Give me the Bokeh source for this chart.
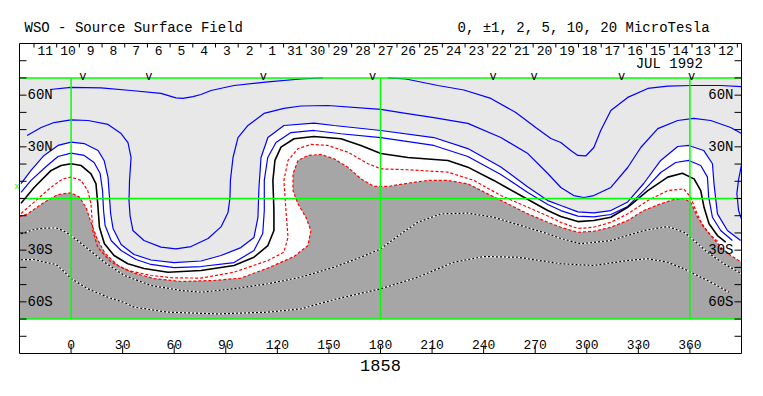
from bokeh.plotting import figure
from bokeh.embed import file_html
from bokeh.resources import INLINE
from bokeh.core.properties import value

# ---------------- frame / map extents ----------------
LON_MIN, LON_MAX = -30, 390
LAT_MIN, LAT_MAX = -90, 90
MAP_S, MAP_N = -70, 70
grid_lons = [0, 180, 360]
grid_lats = [70, 0, -70]

# ---------------- axis ticks / labels ----------------
lon_ticks = [0, 30, 60, 90, 120, 150, 180, 210, 240, 270, 300, 330, 360]
lon_tick_labels = [str(v) for v in lon_ticks]
lat_ticks = [-80, -70, -60, -50, -40, -30, -20, -10, 0, 10, 20, 30, 40, 50, 60, 70, 80]
lat_label_vals = [60, 30, -30, -60]
lat_label_text = ["60N", "30N", "30S", "60S"]

# Carrington rotation 1858: day labels (days counted from 1 July 1992)
rotation = "1858"
rot_start_day = 14.09          # July day at longitude 360
deg_per_day = 360 / 27.2753
day_index = [42, 41, 40, 39, 38, 37, 36, 35, 34, 33, 32, 31, 30, 29, 28, 27, 26, 25,
             24, 23, 22, 21, 20, 19, 18, 17, 16, 15, 14, 13, 12]
day_labels = ["11", "10", "9", "8", "7", "6", "5", "4", "3", "2", "1", "31", "30", "29",
              "28", "27", "26", "25", "24", "23", "22", "21", "20", "19", "18", "17",
              "16", "15", "14", "13", "12"]
day_bounds = list(range(12, 44))

# observation markers ("V")
obs_lons = [6.8, 45.2, 111.8, 175.4, 245.5, 269.3, 320.3, 361.0]

b0_lat = 6.6

# ---------------- contours (lon, lat) ----------------
# +10 uT (two pieces)
p10a_lon = [-12.2, 0, 17.4, 34.9, 52.3, 61.0, 65.1, 70.9, 75.6, 81.4, 94.8, 114.5, 133.7, 146.5]
p10a_lat = [63.3, 64.5, 64.2, 62.7, 61.0, 58.4, 58.1, 59.2, 60.4, 62.7, 65.6, 67.7, 69.4, 70.0]
p10b_lon = [184.3, 194.8, 213.4, 228.5, 244.2, 258.7, 270.3, 279.1, 284.9, 290.7, 294.8, 299.4,
            304.1, 308.1, 314.0, 323.8, 335.5, 347.1, 360.5, 378.0, 390.0]
p10b_lat = [70.0, 69.4, 65.6, 63.0, 58.1, 49.9, 41.2, 34.8, 32.5, 27.9, 25.0, 24.7,
            29.6, 39.5, 51.1, 58.7, 63.9, 65.3, 65.6, 65.6, 65.0]

# +5 uT
p5_lon = [-25.6, -17.4, -9.9, 0, 9.9, 21.5, 29.1, 33.1, 34.9, 34.0, 33.7, 34.3, 36.0, 42.4, 52.3,
          61.0, 69.8, 79.7, 87.2, 91.3, 92.4, 92.7, 94.2, 97.1, 102.9, 112.2, 123.8, 133.7, 149.4,
          180.2, 191.9, 211.0, 230.8, 250.0, 265.7, 277.3, 284.9, 292.4, 298.3, 304.1, 314.0,
          323.8, 331.4, 341.3, 352.9, 362.2, 372.1, 383.7, 390.0]
p5_lat = [36.6, 41.2, 44.1, 45.6, 45.3, 43.0, 37.7, 32.5, 23.8, 10.5, -1.2, -9.9, -18.6, -24.4, -28.2,
          -29.3, -27.9, -23.2, -16.5, -8.1, 0, 10.5, 23.8, 35.4, 42.4, 49.4, 52.3, 53.7, 54.0,
          51.7, 49.9, 47.0, 43.6, 35.4, 26.1, 14.5, 6.4, 1.7, 0.6, 1.7, 6.4,
          18.0, 29.6, 40.6, 45.3, 46.5, 45.3, 41.2, 37.7]
p5_east_lon = [390.0, 388.3, 387.3, 388.3, 390.0]
p5_east_lat = [19.5, 11.0, 3.0, -7.0, -12.0]

# +2 uT
p2_lon = [-29.1, -23.3, -15.7, -7.6, 0, 7.6, 15.7, 19.2, 21.5, 22.4, 23.0, 24.4, 29.1, 36.6, 46.5,
          59.9, 75.6, 87.2, 98.8, 106.4, 108.7, 109.3, 110.5, 114.5, 123.8, 141.3, 152.9, 180.2,
          211.0, 230.8, 250.0, 265.7, 277.3, 284.9, 294.8, 304.1, 314.0, 323.8, 333.1, 343.0,
          352.9, 359.3, 368.0, 373.1, 374.0, 376.0, 381.8, 389.5]
p2_lat = [8.7, 16.3, 25.0, 30.8, 32.7, 31.9, 27.9, 22.1, 12.2, 0, -8.7, -17.4, -26.7, -32.5, -35.7,
          -37.2, -36.3, -33.1, -28.5, -22.6, -11.0, 6.4, 23.8, 35.4, 42.4, 43.8, 42.4, 39.5,
          35.4, 29.0, 18.3, 6.7, -1.2, -4.1, -7.8, -8.4, -7.0, -2.0, 8.7, 22.1,
          30.2, 30.8, 27.9, 20.2, 8.5, -8.9, -18.6, -24.4]

# +1 uT
p1_lon = [-29.1, -23.3, -14.5, -7.6, 0, 7.6, 13.4, 16.9, 18.3, 18.9, 19.8, 23.3, 29.1, 37.8, 46.5,
          59.9, 75.6, 94.8, 106.4, 111.5, 112.4, 112.4, 114.4, 119.2, 127.9, 141.3, 157.0, 180.2,
          211.0, 230.8, 250.0, 265.7, 277.3, 284.9, 294.8, 304.1, 314.0, 323.8, 333.1, 343.0,
          351.7, 359.3, 366.3, 370.2, 370.9, 373.1, 377.9, 384.7]
p1_lat = [3.5, 10.5, 18.6, 24.4, 26.3, 25.0, 20.9, 14.5, 4.6, -7.0, -15.7, -24.4, -30.2, -35.4, -38.3,
          -40.1, -39.5, -37.2, -30.2, -20.3, -7.0, 10.5, 23.8, 32.5, 38.3, 39.5, 37.6, 35.4,
          30.8, 24.4, 13.9, 3.5, -3.5, -7.0, -10.2, -10.7, -9.3, -4.6, 4.6, 15.1,
          20.9, 22.1, 19.2, 12.4, 0.8, -10.9, -18.6, -24.4]

# 0 uT (neutral line)
n0_lon = [-29.1, -21.5, -11.6, -5.8, 0, 5.8, 11.6, 14.5, 15.5, 16.5, 19.4, 25.0, 33.0, 42.4, 56.4,
          75.6, 94.8, 106.4, 114.5, 118.0, 118.0, 117.4, 118.6, 122.1, 129.7, 141.3, 157.0, 168.6,
          180.2, 195.9, 219.2, 230.8, 245.9, 261.6, 277.3, 284.9, 294.8, 304.1, 314.0, 323.8,
          335.5, 347.1, 355.6, 362.4, 366.3, 368.2, 371.1, 376.0, 380.8]
n0_lat = [-2.7, 6.4, 16.3, 19.2, 20.2, 19.2, 14.3, 8.5, -2.9, -16.7, -26.3, -33.1, -37.9, -40.6, -42.8,
          -41.8, -38.9, -34.1, -27.3, -18.6, -7.0, 10.5, 22.1, 29.8, 34.7, 36.0, 34.7, 30.8,
          26.1, 23.8, 22.1, 18.2, 10.5, 1.7, -7.0, -10.5, -13.4, -12.8, -10.9, -5.1,
          4.6, 12.4, 14.7, 11.4, 4.6, -5.1, -14.7, -21.5, -25.4]

# -1 uT
m1_lon = [-29.1, -21.5, -11.6, -4.8, 0, 5.8, 9.7, 11.6, 12.6, 15.5, 23.3, 33.0, 46.5, 59.9, 75.6,
          94.8, 114.5, 123.8, 126.2, 125.0, 123.8, 126.2, 132.0, 139.5, 149.4, 161.0, 172.7, 180.2,
          195.9, 219.2, 234.3, 250.0, 265.7, 279.1, 284.9, 294.8, 304.1, 314.0, 323.8, 335.5,
          347.1, 356.4, 360.5, 363.4, 367.3, 372.1, 376.7]
m1_lat = [-8.7, -2.1, 6.6, 11.4, 12.4, 10.5, 4.6, -3.1, -18.6, -28.3, -37.0, -41.8, -44.7, -46.1, -46.2,
          -42.8, -36.0, -31.2, -22.5, -7.0, 10.5, 22.1, 28.9, 31.4, 30.8, 26.9, 20.2, 17.2,
          16.7, 15.3, 10.5, 1.7, -5.1, -10.9, -13.9, -17.4, -16.7, -13.8, -8.9, -1.2,
          4.6, 5.6, 0.8, -7.0, -15.7, -21.5, -25.4]

# -2 uT (edge of the dark negative region)
m2_lon = [-30.0, -25.2, -15.5, -7.7, 0, 4.8, 8.7, 11.6, 15.1, 19.8, 27.3, 36.6, 48.3, 64.0, 83.1,
          98.8, 114.5, 129.7, 137.8, 139.5, 136.6, 132.0, 129.1, 129.1, 132.0, 137.8, 145.3, 152.9,
          161.0, 168.6, 176.2, 184.3, 195.9, 207.6, 219.2, 230.8, 242.4, 254.1, 265.7, 277.3,
          284.9, 294.8, 304.1, 314.0, 323.8, 333.1, 343.0, 350.6, 356.4, 360.5, 364.5, 370.3,
          377.9, 383.7, 390.0]
m2_lat = [-10.5, -8.9, -2.1, 2.3, 3.3, 0.8, -5.2, -13.9, -23.2, -31.9, -38.9, -43.3, -46.5, -48.2, -47.6,
          -46.2, -40.4, -33.7, -27.3, -18.6, -10.9, -3.1, 4.6, 14.3, 22.1, 25.0, 25.6, 23.1,
          18.2, 11.4, 7.0, 7.0, 8.9, 10.5, 10.5, 8.5, 2.7, -3.1, -8.9, -13.8,
          -16.7, -19.6, -19.0, -16.7, -12.8, -7.0, -3.1, -0.6, 0, -2.3, -11.0, -19.2,
          -28.3, -33.1, -37.0]

# -5 uT
m5_lon = [-29.1, -21.5, -15.7, -8.7, -4.7, 0, 9.7, 19.4, 31.0, 46.5, 64.0, 75.6, 94.8, 114.5, 133.7,
          152.9, 168.6, 180.2, 191.9, 201.7, 215.1, 230.8, 245.9, 261.6, 277.3, 284.9, 296.5,
          314.0, 333.1, 347.1, 356.6, 362.4, 370.2, 379.8, 390.0]
m5_lat = [-20.5, -18.0, -17.2, -17.1, -18.6, -21.5, -29.2, -37.0, -44.7, -50.5, -53.4, -54.4, -52.4,
          -49.5, -45.7, -39.9, -34.1, -29.2, -20.5, -13.8, -8.9, -8.5, -10.9, -15.7, -20.5, -23.2,
          -26.3, -24.4, -18.6, -16.3, -19.6, -24.4, -31.2, -37.9, -43.7]

# -10 uT
m10_lon = [-29.1, -21.5, -15.5, -8.7, -4.7, 0, 9.7, 21.3, 31.0, 36.8, 56.2, 85.3, 114.4, 133.7, 152.9,
           180.2, 201.7, 222.7, 240.1, 259.9, 284.9, 304.1, 323.8, 335.5, 347.1, 356.4, 364.3,
           374.0, 382.7]
m10_lat = [-35.6, -35.4, -37.0, -38.3, -41.8, -46.5, -52.4, -57.3, -60.4, -63.1, -66.0, -67.0, -66.0,
           -64.1, -58.7, -52.4, -45.7, -37.0, -33.7, -34.1, -37.9, -38.9, -36.0, -35.0, -37.0,
           -40.8, -44.7, -49.5, -54.4]

# ---------------- figure ----------------
FONT = "Liberation Mono"
LIGHT = "#e8e8e8"
DARK = "#a6a6a6"
GREEN = "#00ff00"

BOX_W, BOX_H = 722, 310                     # pixel size of the map box
PAD_L, PAD_R, PAD_T, PAD_B = 19, 14, 43, 30  # room around the box for texts
px_x = BOX_W / (LON_MAX - LON_MIN)
px_y = BOX_H / (LAT_MAX - LAT_MIN)

p = figure(frame_width=BOX_W + PAD_L + PAD_R, frame_height=BOX_H + PAD_T + PAD_B,
           x_range=(LON_MIN - PAD_L / px_x, LON_MAX + PAD_R / px_x),
           y_range=(LAT_MIN - PAD_B / px_y, LAT_MAX + PAD_T / px_y),
           output_backend="svg", toolbar_location=None,
           x_axis_location=None, y_axis_location=None, min_border=0)
p.grid.grid_line_color = None
p.outline_line_color = None
p.background_fill_color = "white"
p.border_fill_color = "white"

# fills
p.quad(left=[LON_MIN], right=[LON_MAX], bottom=[MAP_S], top=[MAP_N],
       fill_color=LIGHT, line_color=None)
white_x = [LON_MIN] + p2_lon + [LON_MAX, LON_MAX, LON_MIN]
white_y = [p2_lat[0]] + p2_lat + [p2_lat[-1], MAP_S, MAP_S]
p.patch(white_x, white_y, fill_color="white", line_color=None)
dark_x = m2_lon + [LON_MAX, LON_MIN]
dark_y = m2_lat + [MAP_S, MAP_S]
p.patch(dark_x, dark_y, fill_color=DARK, line_color=None)

# positive contours
for xs, ys in [(p10a_lon, p10a_lat), (p10b_lon, p10b_lat), (p5_lon, p5_lat),
               (p5_east_lon, p5_east_lat), (p2_lon, p2_lat), (p1_lon, p1_lat)]:
    p.line(xs, ys, line_color="#0000ff", line_width=1.2)
# neutral line
p.line(n0_lon, n0_lat, line_color="black", line_width=1.6)
# -1 / -2
for xs, ys in [(m1_lon, m1_lat), (m2_lon, m2_lat)]:
    p.line(xs, ys, line_color="#ff0000", line_width=1.2, line_dash="3 2")
# -5 / -10
for xs, ys in [(m5_lon, m5_lat), (m10_lon, m10_lat)]:
    p.line(xs, ys, line_color="white", line_width=1.2)
    p.line(xs, ys, line_color="black", line_width=1.2, line_dash="2 2")

# green reference grid
p.segment(x0=[LON_MIN] * len(grid_lats), x1=[LON_MAX] * len(grid_lats), y0=grid_lats, y1=grid_lats,
          line_color=GREEN, line_width=1.5)
p.segment(x0=grid_lons, x1=grid_lons, y0=[MAP_S] * len(grid_lons), y1=[MAP_N] * len(grid_lons),
          line_color=GREEN, line_width=1.5)

# box
p.quad(left=[LON_MIN], right=[LON_MAX], bottom=[LAT_MIN], top=[LAT_MAX],
       fill_color=None, line_color="black", line_width=1)

# ticks (pointing inward)
n = len(lat_ticks)
p.segment(x0=[LON_MIN] * n, x1=[LON_MIN + 7 / px_x] * n, y0=lat_ticks, y1=lat_ticks,
          line_color="black", line_width=1)
p.segment(x0=[LON_MAX] * n, x1=[LON_MAX - 7 / px_x] * n, y0=lat_ticks, y1=lat_ticks,
          line_color="black", line_width=1)
m = len(lon_ticks)
p.segment(x0=lon_ticks, x1=lon_ticks, y0=[LAT_MIN] * m, y1=[LAT_MIN + 8 / px_y] * m,
          line_color="black", line_width=1)
bound_lons = [360 - (d - rot_start_day) * deg_per_day for d in day_bounds]
bound_lons = [b for b in bound_lons if LON_MIN < b < LON_MAX]
k = len(bound_lons)
p.segment(x0=bound_lons, x1=bound_lons, y0=[LAT_MAX] * k, y1=[LAT_MAX - 4 / px_y] * k,
          line_color="black", line_width=1)

# tick labels
p.text(x=lon_ticks, y=[LAT_MIN + 9.5 / px_y] * m, text=lon_tick_labels,
       text_font=value(FONT), text_font_size="13px", text_align="center",
       text_baseline="middle", text_color="black")
day_lons = [360 - (d + 0.5 - rot_start_day) * deg_per_day for d in day_index]
p.text(x=day_lons, y=[LAT_MAX - 7 / px_y] * len(day_lons), text=day_labels,
       text_font=value(FONT), text_font_size="13px", text_align="center",
       text_baseline="middle", text_color="black")
nl = len(lat_label_vals)
p.text(x=[LON_MIN + 8 / px_x] * nl, y=lat_label_vals, text=lat_label_text,
       text_font=value(FONT), text_font_size="14px", text_align="left",
       text_baseline="middle", text_color="black")
p.text(x=[LON_MAX - 8 / px_x] * nl, y=lat_label_vals, text=lat_label_text,
       text_font=value(FONT), text_font_size="14px", text_align="right",
       text_baseline="middle", text_color="black")
p.text(x=obs_lons, y=[MAP_N + 0.6] * len(obs_lons), text=["v"] * len(obs_lons),
       text_font=value(FONT), text_font_size="12px", text_align="center",
       text_baseline="alphabetic", text_color="black")
p.text(x=[348], y=[LAT_MAX - 20 / px_y], text=["JUL 1992"],
       text_font=value(FONT), text_font_size="14px", text_align="center",
       text_baseline="middle", text_color="black")

# texts around the box
p.text(x=[LON_MIN + 5 / px_x], y=[LAT_MAX + 16 / px_y], text=["WSO - Source Surface Field"],
       text_font=value(FONT), text_font_size="14px", text_baseline="middle",
       text_align="left", text_color="black")
p.text(x=[LON_MIN + 438 / px_x], y=[LAT_MAX + 16 / px_y],
       text=["0, \u00b11, 2, 5, 10, 20 MicroTesla"],
       text_font=value(FONT), text_font_size="14px", text_baseline="middle",
       text_align="left", text_color="black")
p.text(x=[180], y=[LAT_MIN - 12 / px_y], text=[rotation],
       text_font=value(FONT), text_font_size="17px", text_baseline="middle",
       text_align="center", text_color="black")
p.text(x=[LON_MIN - 2.5 / px_x], y=[b0_lat], text=["x"],
       text_font=value(FONT), text_font_size="9px", text_baseline="middle",
       text_align="center", text_color=GREEN)

open("out.html", "w").write(file_html(p, INLINE))
